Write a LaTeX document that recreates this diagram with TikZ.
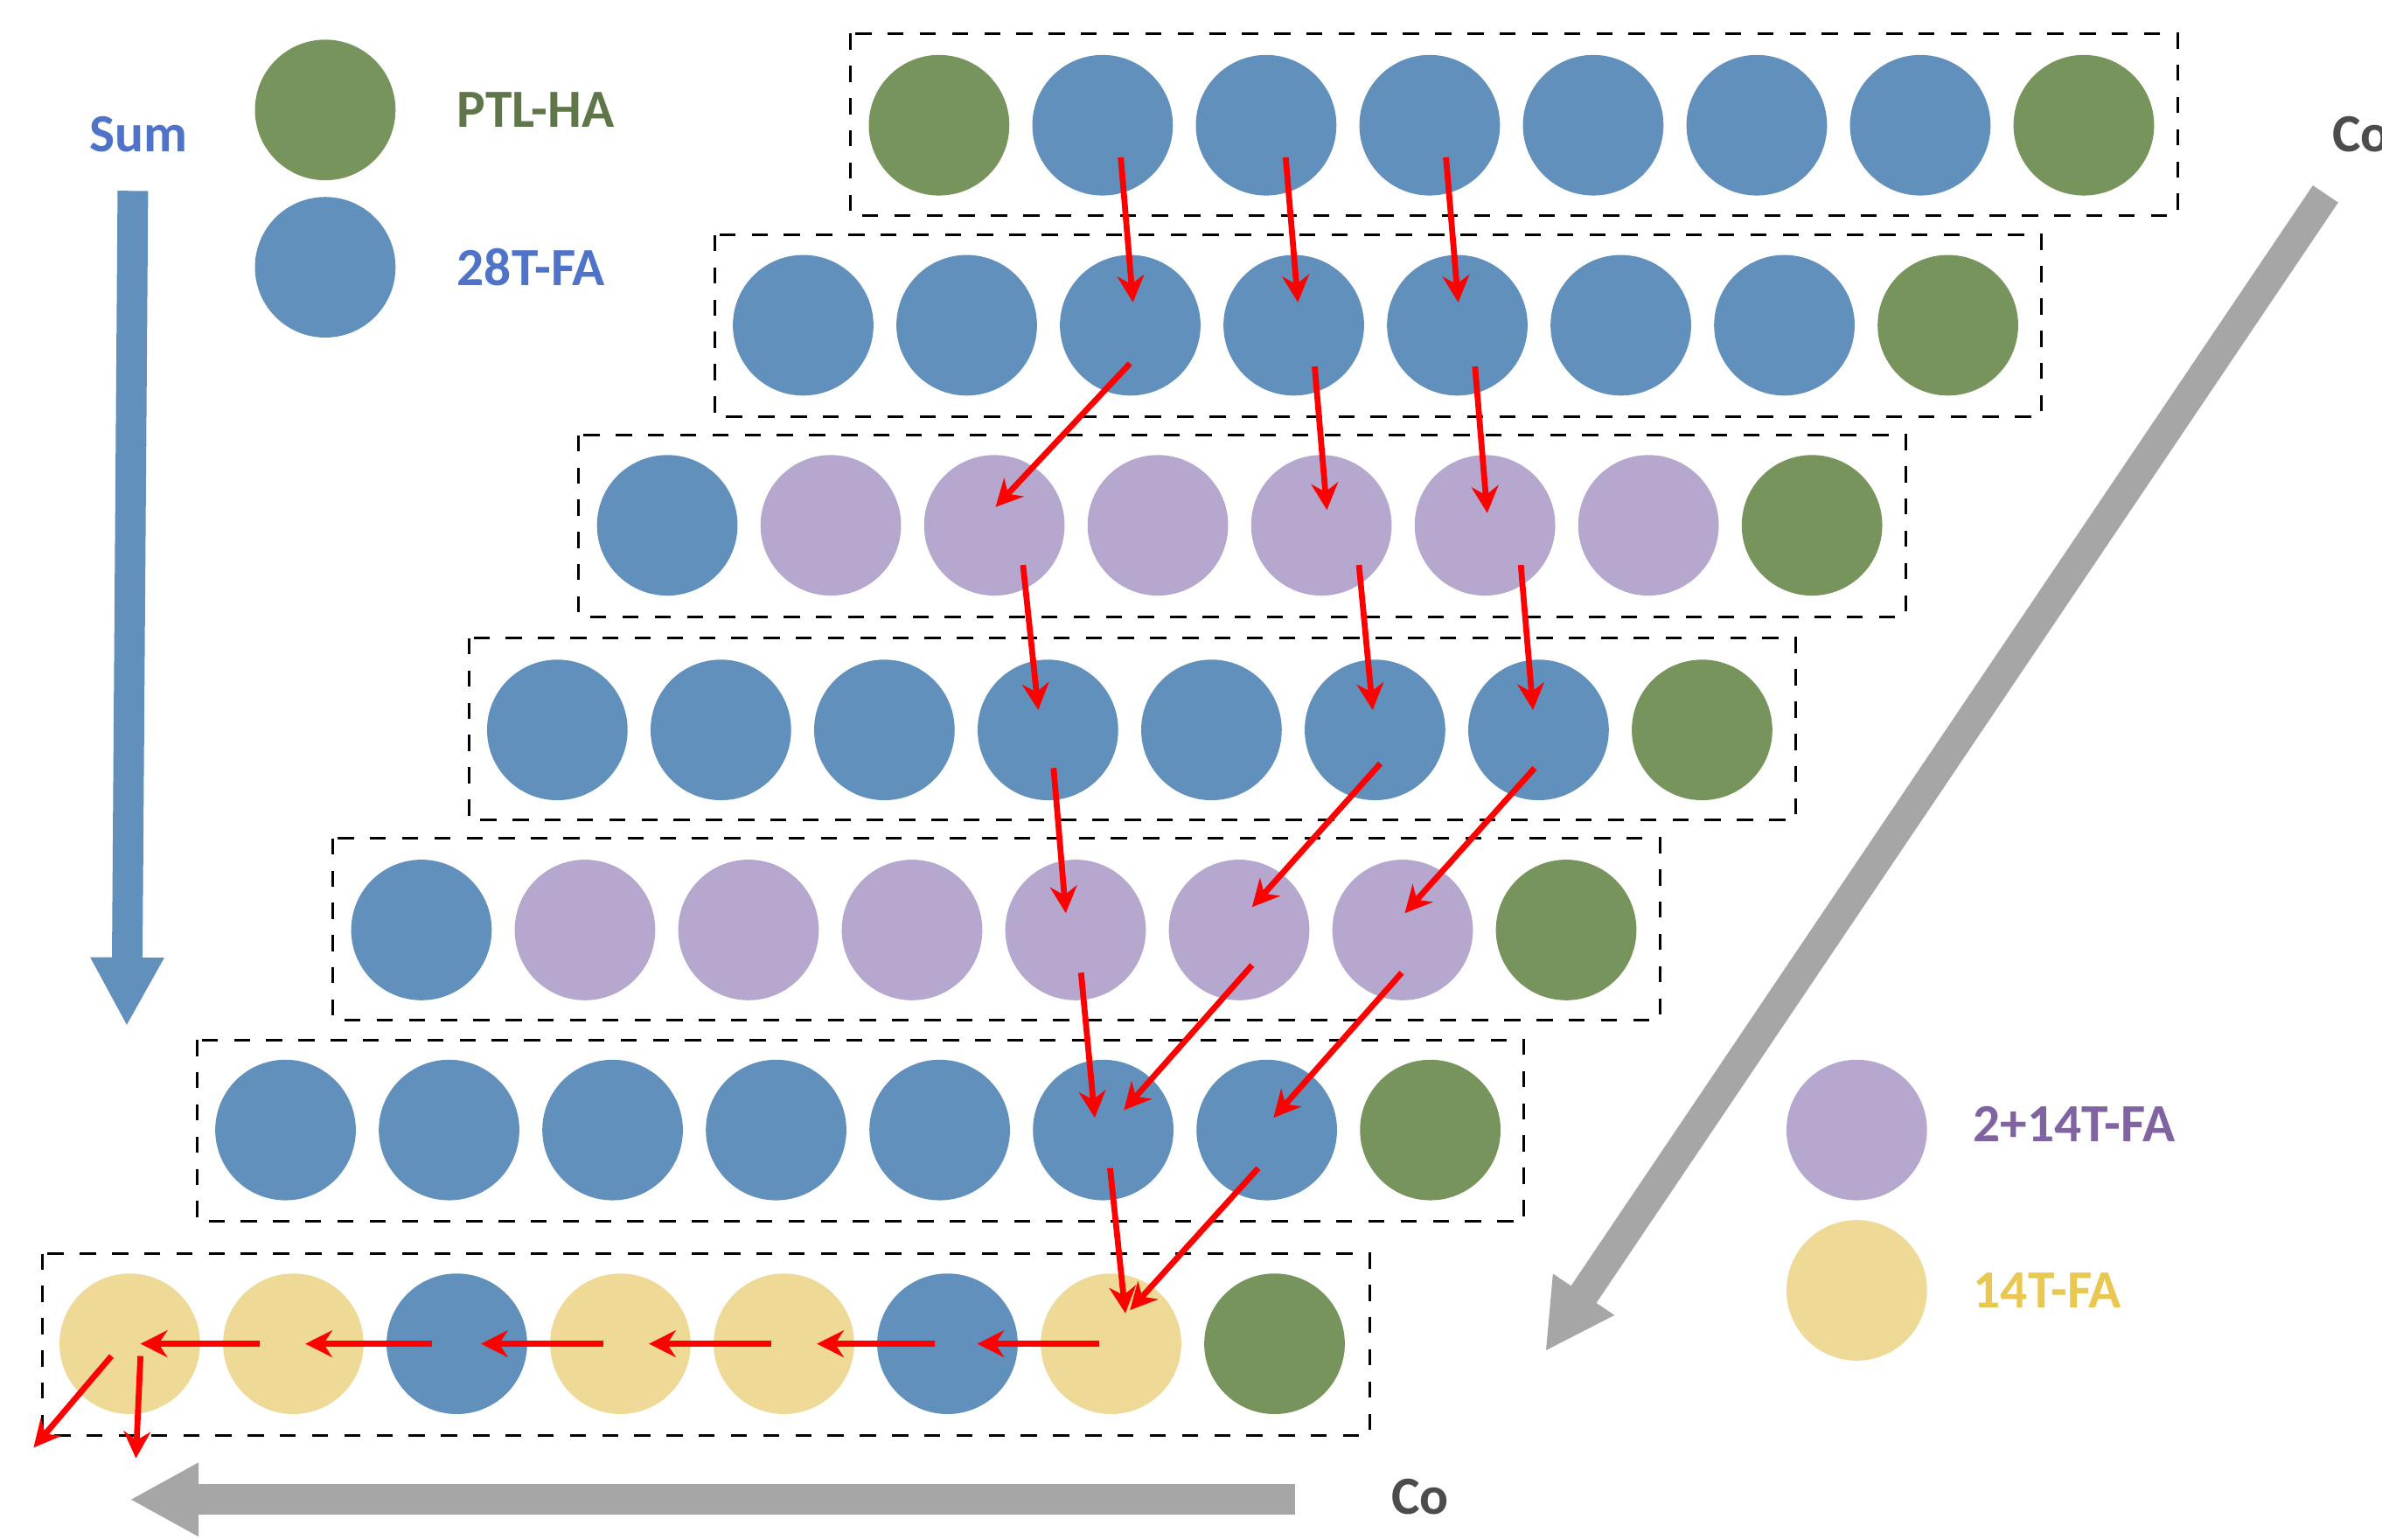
\documentclass[tikz,border=0pt]{standalone}
\usepackage{fontspec}
\setmainfont{Carlito}
\usetikzlibrary{arrows.meta}
\definecolor{cg}{HTML}{77945C}
\definecolor{cb}{HTML}{6190BC}
\definecolor{cp}{HTML}{B6A7CF}
\definecolor{cy}{HTML}{EEDA96}
\definecolor{gr}{HTML}{A6A6A6}
\begin{document}
\begin{tikzpicture}[x=0.01cm,y=-0.01cm,
  cell/.style={circle,minimum size=0.92cm,inner sep=0pt},
  box/.style={draw,dashed,line width=0.5pt},
  ra/.style={red,line width=1.1pt,-{Stealth[length=5pt,width=5pt]}},
  big/.style={line width=0.2cm,-{Triangle[width=0.45cm,length=0.45cm]}},
  lab/.style={font=\fontsize{10}{12}\selectfont\bfseries,anchor=west}]
\useasboundingbox (0,0) rectangle (1560,1008);
% boxes
\foreach \r/\x/\y in {1/557/22,2/468/154,3/379/285,4/307/418,5/218/549,6/129/681,7/28/821}
  \draw[box] (\x,\y) rectangle ++(869,119);
% rows
\newcommand\myrow[4]{\foreach \c [count=\k] in {#4}
  \node[cell,fill=\c] (c#1-\k) at ({#2+(\k-1)*107.1},#3) {};}
\myrow{1}{615}{82}{cg,cb,cb,cb,cb,cb,cb,cg}
\myrow{2}{526}{213}{cb,cb,cb,cb,cb,cb,cb,cg}
\myrow{3}{437}{344}{cb,cp,cp,cp,cp,cp,cp,cg}
\myrow{4}{365}{478}{cb,cb,cb,cb,cb,cb,cb,cg}
\myrow{5}{276}{609}{cb,cp,cp,cp,cp,cp,cp,cg}
\myrow{6}{187}{740}{cb,cb,cb,cb,cb,cb,cb,cg}
\myrow{7}{85}{880}{cy,cy,cb,cy,cy,cb,cy,cg}
% red arrows
\foreach \a/\b/\c/\d in {734/103/742/198,842/103/850/198,947/103/955/198,
 740/238/652/332,861/240/869/334,966/240/974/336,
 670/370/680/465,890/370/899/465,996/370/1004/465,
 690/503/698/598,904/500/820/594,1005/503/920/598,
 708/637/717/732,820/632/736/727,918/637/834/732,
 727/765/737/860,824/765/740/858,
 720/880/640/880,612/880/535/880,505/880/425/880,395/880/315/880,283/880/200/880,170/880/92/880,
 73/888/22/948,92/888/89/955}
 \draw[ra] (\a,\b) -- (\c,\d);
% legend
\node[cell,fill=cg] (lg) at (213,72) {};
\node[cell,fill=cb] (lb) at (213,175) {};
\node[cell,fill=cp] (lp) at (1216,740) {};
\node[cell,fill=cy] (ly) at (1216,845) {};
\node[lab,text=cg!80!black] (tg) at (287,72) {PTL-HA};
\node[lab,text=cb!80!blue] (tb) at (287,175) {28T-FA};
\node[lab,text={rgb,255:red,128;green,100;blue,162}] (tp) at (1280,736) {2+14T-FA};
\node[lab,text={rgb,255:red,232;green,200;blue,80}] (ty) at (1280,845) {14T-FA};
% big arrows
\node[lab,text=cb!80!blue,anchor=center] (sum) at (91,88) {Sum};
\coordinate (s1) at (87,125); \coordinate (s2) at (83,672);
\draw[big,cb] (s1) -- (s2);
\node[lab,text=black!70,anchor=west] (co1) at (1515,88) {Co};
\coordinate (g1) at (1523,127); \coordinate (g2) at (1012,885);
\draw[big,gr] (g1) -- (g2);
\node[lab,text=black!70,anchor=center] (co2) at (930,980) {Co};
\coordinate (h1) at (848,982); \coordinate (h2) at (85,982);
\draw[big,gr] (h1) -- (h2);
\end{tikzpicture}
\end{document}
